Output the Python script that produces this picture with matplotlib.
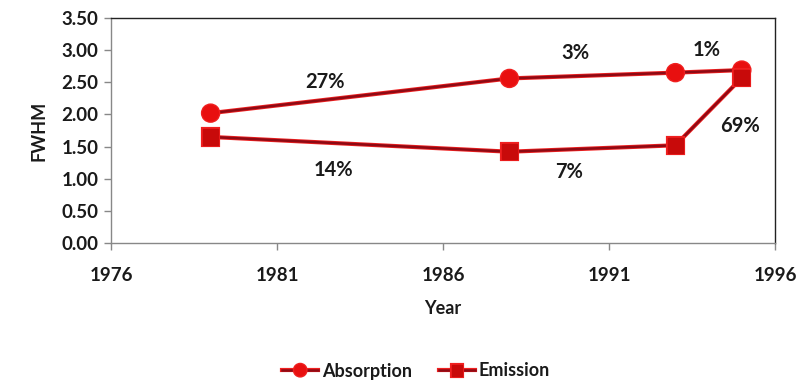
import matplotlib
matplotlib.use("Agg")
import matplotlib.pyplot as plt
import matplotlib.patheffects as pe

years = [1979, 1988, 1993, 1995]
absorption = [2.02, 2.56, 2.65, 2.69]
emission = [1.65, 1.42, 1.52, 2.57]

abs_labels = ["27%", "3%", "1%"]
abs_label_pos = [(1982.45, 2.50), (1990.0, 2.95), (1993.95, 3.0)]
emi_labels = ["14%", "7%", "69%"]
emi_label_pos = [(1982.7, 1.13), (1989.8, 1.10), (1994.95, 1.82)]

xticks = [1976, 1981, 1986, 1991, 1996]
yticks = [0.0, 0.5, 1.0, 1.5, 2.0, 2.5, 3.0, 3.5]

plt.rcParams['font.family'] = ['Lato', 'DejaVu Sans']
txt = '#1a1a1a'

fig = plt.figure(figsize=(8.11, 3.84), dpi=100)
ax = fig.add_axes([111/811, 1-243/384, (775-111)/811, (243-18)/384])

glow = [pe.Stroke(linewidth=3.0, foreground='#f02020'), pe.Normal()]
l1, = ax.plot(years, absorption, color='#8e0a14', lw=1.8, marker='o', ms=11,
              mfc='#e81010', mec='#e81010', label='Absorption', path_effects=glow)
l2, = ax.plot(years, emission, color='#8e0a14', lw=1.8, marker='s', ms=11,
              mfc='#c80a0a', mec='#c80a0a', label='Emission', path_effects=glow)

for t, (x, y) in zip(abs_labels, abs_label_pos):
    ax.text(x, y, t, ha='center', va='center', fontsize=14.5, fontweight='bold', color=txt)
for t, (x, y) in zip(emi_labels, emi_label_pos):
    ax.text(x, y, t, ha='center', va='center', fontsize=14.5, fontweight='bold', color=txt)

ax.set_xlim(1976, 1996)
ax.set_ylim(0, 3.5)
ax.set_xticks(xticks)
ax.set_yticks(yticks)
ax.set_yticklabels([f"{v:.2f}" for v in yticks])
ax.tick_params(axis='both', direction='out', length=5, color='#888888', labelsize=13.5,
               labelcolor=txt, width=1)
ax.tick_params(axis='x', pad=12)
ax.tick_params(axis='y', pad=4)
for lab in ax.get_xticklabels() + ax.get_yticklabels():
    lab.set_fontweight('bold')

ax.spines['left'].set_color('#888888')
ax.spines['bottom'].set_color('#888888')
ax.spines['top'].set_color('#222222')
ax.spines['right'].set_color('#222222')
for s in ax.spines.values():
    s.set_linewidth(1.0)

ax.set_xlabel('Year', fontsize=13, fontweight='bold', color=txt, labelpad=12)
ax.set_ylabel('FWHM', fontsize=13, fontweight='bold', color=txt, labelpad=10)

leg = fig.legend(handles=[l1, l2], loc='center', bbox_to_anchor=(0.513, 1-371/384),
                 ncol=2, frameon=False, fontsize=13, handlelength=2.0,
                 handletextpad=0.2, columnspacing=1.5, markerscale=0.7)
for t in leg.get_texts():
    t.set_fontweight('bold')
    t.set_color(txt)

fig.savefig('out.png', dpi=100)
